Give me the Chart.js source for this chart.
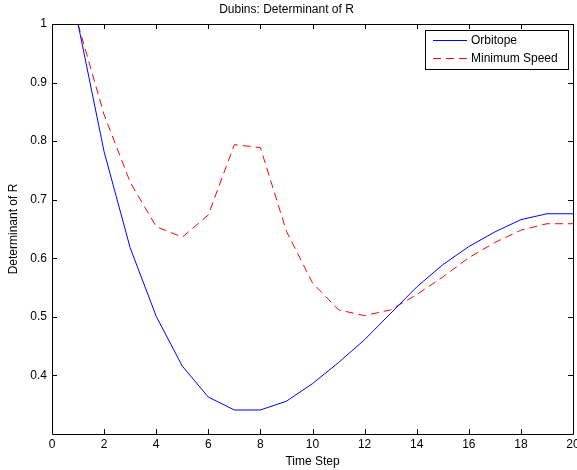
<!DOCTYPE html>
<html>
<head>
<meta charset="utf-8">
<script src="https://cdn.jsdelivr.net/npm/chart.js@4.4.0/dist/chart.umd.min.js"></script>
<style>
  body { margin: 0; background: #fff; }
</style>
</head>
<body>
<canvas id="myChart" width="577" height="470"></canvas>
<script>
var timeSteps = [1, 2, 3, 4, 5, 6, 7, 8, 9, 10, 11, 12, 13, 14, 15, 16, 17, 18, 19, 20]
var orbitope = [1.0, 0.782, 0.618, 0.501, 0.416, 0.363, 0.341, 0.341, 0.356, 0.386,
                0.422, 0.461, 0.506, 0.551, 0.589, 0.620, 0.645, 0.666, 0.676, 0.676]
var minimumSpeed = [1.0, 0.845, 0.73, 0.654, 0.636, 0.674, 0.794, 0.789, 0.646, 0.558,
                    0.512, 0.502, 0.512, 0.538, 0.568, 0.601, 0.627, 0.648, 0.659, 0.659]
var xTicks = [0, 2, 4, 6, 8, 10, 12, 14, 16, 18, 20]
var yTicks = [0.4, 0.5, 0.6, 0.7, 0.8, 0.9, 1]

var fontFamily = '"Liberation Sans", Arial, sans-serif'

function points(ys) {
    return timeSteps.map(function (t, i) { return { x: t, y: ys[i] } })
}

// matlab style box, inward ticks on all four sides, and the legend box
var matlabBox = {
    id: 'matlabBox',
    afterDraw: function (chart) {
        var ctx = chart.ctx
        var a = chart.chartArea
        var xs = chart.scales.x, ys = chart.scales.y
        var tl = 5
        ctx.save()
        ctx.strokeStyle = '#000'
        ctx.lineWidth = 1
        ctx.beginPath()
        ctx.rect(Math.round(a.left) + 0.5, Math.round(a.top) + 0.5,
                 Math.round(a.right - a.left), Math.round(a.bottom - a.top))
        xTicks.forEach(function (v) {
            var px = Math.round(xs.getPixelForValue(v)) + 0.5
            ctx.moveTo(px, a.bottom); ctx.lineTo(px, a.bottom - tl)
            ctx.moveTo(px, a.top); ctx.lineTo(px, a.top + tl)
        })
        yTicks.forEach(function (v) {
            var py = Math.round(ys.getPixelForValue(v)) + 0.5
            ctx.moveTo(a.left, py); ctx.lineTo(a.left + tl, py)
            ctx.moveTo(a.right, py); ctx.lineTo(a.right - tl, py)
        })
        ctx.stroke()

        // legend
        var lx = 425, ly = 30, lw = 143, lh = 39
        ctx.fillStyle = '#fff'
        ctx.fillRect(lx, ly, lw, lh)
        ctx.strokeRect(lx + 0.5, ly + 0.5, lw, lh)
        ctx.font = '12px ' + fontFamily
        ctx.textBaseline = 'middle'
        chart.data.datasets.forEach(function (ds, i) {
            var y = ly + 10 + i * 18 + 0.5
            ctx.strokeStyle = ds.borderColor
            ctx.setLineDash(ds.borderDash || [])
            ctx.beginPath()
            ctx.moveTo(433, y); ctx.lineTo(467, y)
            ctx.stroke()
            ctx.setLineDash([])
            ctx.fillStyle = '#000'
            ctx.fillText(ds.label, 471, y)
        })
        ctx.restore()
    }
}

var ctx = document.getElementById('myChart').getContext('2d')
var myChart = new Chart(ctx, {
    type: 'line',
    data: {
        datasets: [{
            label: 'Orbitope',
            data: points(orbitope),
            borderColor: '#0000ff',
            borderWidth: 1,
            pointRadius: 0,
            tension: 0
        }, {
            label: 'Minimum Speed',
            data: points(minimumSpeed),
            borderColor: '#ff0000',
            borderWidth: 1,
            borderDash: [8, 5],
            pointRadius: 0,
            tension: 0
        }]
    },
    options: {
        responsive: false,
        animation: false,
        layout: { padding: { left: 0, right: 4, top: 0, bottom: 0 } },
        plugins: {
            legend: { display: false },
            tooltip: { enabled: false },
            title: {
                display: true,
                text: 'Dubins: Determinant of R',
                color: '#000',
                font: { family: fontFamily, size: 12, weight: 'normal' },
                padding: { top: 2, bottom: 7.6 }
            }
        },
        scales: {
            x: {
                type: 'linear',
                min: 0,
                max: 20,
                afterBuildTicks: function (scale) {
                    scale.ticks = xTicks.map(function (v) { return { value: v } })
                },
                afterFit: function (scale) {
                    scale.height = 36
                    scale.paddingLeft = 0
                    scale.paddingRight = 0
                },
                grid: { display: false, drawTicks: false },
                border: { display: false },
                ticks: {
                    color: '#000',
                    padding: 3,
                    maxRotation: 0,
                    font: { family: fontFamily, size: 12 }
                },
                title: {
                    display: true,
                    text: 'Time Step',
                    color: '#000',
                    font: { family: fontFamily, size: 12 },
                    padding: { top: 0, bottom: 1 }
                }
            },
            y: {
                min: 0.3,
                max: 1,
                afterBuildTicks: function (scale) {
                    scale.ticks = yTicks.map(function (v) { return { value: v } })
                },
                afterFit: function (scale) {
                    scale.width = 52
                    scale.paddingTop = 0
                    scale.paddingBottom = 0
                },
                grid: { display: false, drawTicks: false },
                border: { display: false },
                ticks: {
                    color: '#000',
                    padding: 5,
                    font: { family: fontFamily, size: 12 },
                    callback: function (v) { return String(Math.round(v * 10) / 10) }
                },
                title: {
                    display: true,
                    text: 'Determinant of R',
                    color: '#000',
                    font: { family: fontFamily, size: 12 },
                    padding: { top: 6.8, bottom: 0 }
                }
            }
        }
    },
    plugins: [matlabBox]
})
</script>
</body>
</html>
